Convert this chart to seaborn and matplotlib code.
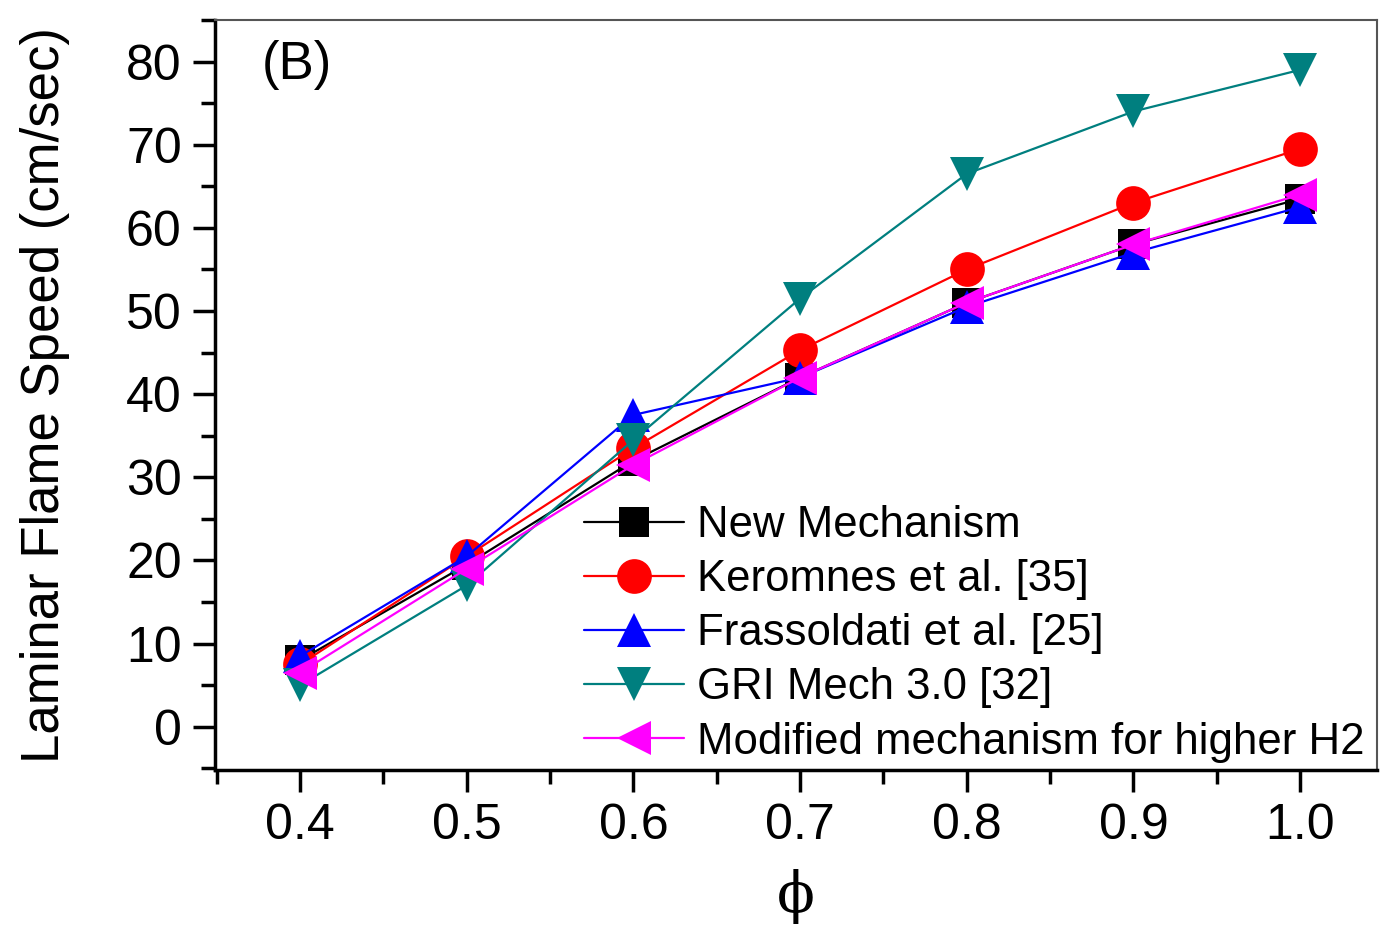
import matplotlib
matplotlib.use("Agg")
import matplotlib.pyplot as plt
import seaborn as sns
import pandas as pd
from matplotlib.ticker import MultipleLocator

phi = [0.4, 0.5, 0.6, 0.7, 0.8, 0.9, 1.0]
new_mech = [8.0, 19.5, 32.0, 42.0, 51.0, 58.0, 63.5]
keromnes = [7.5, 20.5, 33.5, 45.3, 55.0, 63.0, 69.5]
frassoldati = [8.5, 20.5, 37.5, 42.0, 50.5, 57.0, 62.5]
gri = [5.0, 17.0, 34.5, 51.5, 66.5, 74.0, 79.0]
modified = [6.5, 19.0, 31.5, 42.0, 51.0, 58.0, 64.0]

labels = ["New Mechanism", "Keromnes et al. [35]", "Frassoldati et al. [25]",
          "GRI Mech 3.0 [32]", "Modified mechanism for higher H2"]
series = [new_mech, keromnes, frassoldati, gri, modified]
colors = ["#000000", "#FF0000", "#0000FF", "#007F7F", "#FF00FF"]
markers = ["s", "o", "^", "v", "<"]
msizes = [21, 25, 25, 25, 25]

sns.set_style("white")
plt.rcParams['font.family'] = ['Liberation Sans', 'DejaVu Sans']
plt.rcParams['text.color'] = 'black'
plt.rcParams['axes.labelcolor'] = 'black'
plt.rcParams['xtick.color'] = 'black'
plt.rcParams['ytick.color'] = 'black'

fig = plt.figure(figsize=(13.81, 9.33), dpi=100)
ax = fig.add_axes([0.1557, 0.1747, 0.8413, 0.8039])

for lab, vals, c, m, ms in zip(labels, series, colors, markers, msizes):
    df = pd.DataFrame({"phi": phi, "v": vals})
    sns.lineplot(data=df, x="phi", y="v", ax=ax, color=c, marker=m,
                 markersize=ms, markeredgewidth=0, linewidth=1.6, label=lab)

ax.set_xlim(0.349, 1.046)
ax.set_ylim(-5.2, 85)
ax.xaxis.set_major_locator(MultipleLocator(0.1))
ax.xaxis.set_minor_locator(MultipleLocator(0.05))
ax.yaxis.set_major_locator(MultipleLocator(10))
ax.yaxis.set_minor_locator(MultipleLocator(5))
ax.set_xticks(phi)
ax.set_xticklabels([f"{p:.1f}" for p in phi])

for s in ["left", "bottom"]:
    ax.spines[s].set_linewidth(2.5)
    ax.spines[s].set_color("black")
for s in ["top", "right"]:
    ax.spines[s].set_linewidth(1.5)
    ax.spines[s].set_color("#555555")

ax.tick_params(which="major", direction="out", length=16, width=2.5,
               labelsize=36, bottom=True, left=True, pad=8)
ax.tick_params(which="minor", direction="out", length=10, width=2.5,
               bottom=True, left=True)

ax.set_xlabel("ϕ", fontsize=40, labelpad=14, family=['DejaVu Serif'])
ax.set_ylabel("Laminar Flame Speed (cm/sec)", fontsize=38, labelpad=40)

ax.text(0.04, 0.94, "(B)", transform=ax.transAxes, fontsize=38,
        va="center", ha="left")

leg = ax.legend(loc="lower right", bbox_to_anchor=(1.012, -0.025), frameon=False,
                fontsize=31.5, handlelength=2.29, labelspacing=0.3,
                handletextpad=0.3, borderaxespad=0.2)

fig.savefig("out.png", dpi=100)
